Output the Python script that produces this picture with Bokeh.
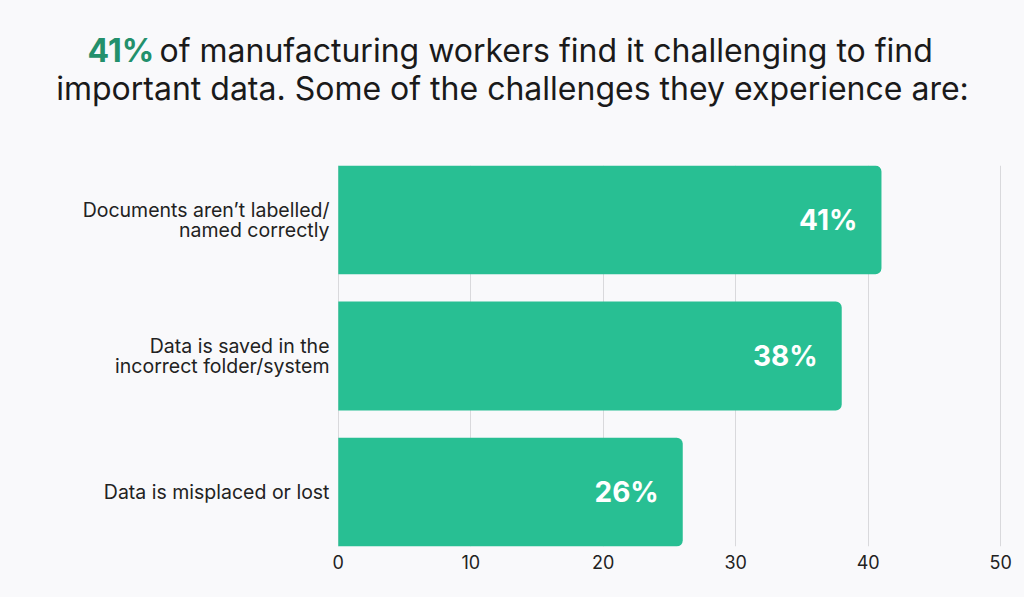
from bokeh.plotting import figure
from bokeh.layouts import column
from bokeh.models import Range1d, FactorRange, Label, ColumnDataSource, FixedTicker
from bokeh.core.properties import value
from bokeh.embed import file_html
from bokeh.resources import INLINE

categories = ["Documents aren\u2019t labelled/\nnamed correctly",
              "Data is saved in the\nincorrect folder/system",
              "Data is misplaced or lost"]
values = [41, 38, 26]
value_labels = ["41%", "38%", "26%"]
x_ticks = [0, 10, 20, 30, 40, 50]
title_highlight = "41%"
title_line1 = "of manufacturing workers find it challenging to find"
title_line2 = "important data. Some of the challenges they experience are:"

BG = "#f9f9fb"
BAR = "#28bf93"
FONT = "Inter"
W = 1024
TH = 120           # title strip height
MH = 597 - TH      # main figure height

# ---- title strip ----
t = figure(width=W, height=TH, output_backend="svg", toolbar_location=None,
           x_range=Range1d(0, W), y_range=Range1d(0, TH),
           x_axis_location=None, y_axis_location=None)
t.min_border = 0
t.frame_align = False
t.background_fill_color = BG
t.border_fill_color = BG
t.outline_line_color = None
t.grid.visible = False
t.add_layout(Label(x=87, y=TH - 50, x_units="screen", y_units="screen", text=title_highlight,
                   text_align="left", text_baseline="middle", text_font=FONT,
                   text_font_size="32px", text_font_style="bold", text_color="#23906c"))
t.add_layout(Label(x=159, y=TH - 50, x_units="screen", y_units="screen", text=title_line1,
                   text_align="left", text_baseline="middle", text_font=FONT,
                   text_font_size="32px", text_color="#1a1a1a"))
t.add_layout(Label(x=W / 2, y=TH - 88, x_units="screen", y_units="screen", text=title_line2,
                   text_align="center", text_baseline="middle", text_font=FONT,
                   text_font_size="32px", text_color="#1a1a1a"))

# ---- main chart ----
p = figure(width=W, height=MH, output_backend="svg", toolbar_location=None,
           y_range=FactorRange(factors=categories[::-1], range_padding=0, factor_padding=0.25),
           x_range=Range1d(-0.06, 50.06))
p.frame_align = False
p.min_border_left = 337
p.min_border_right = 23
p.min_border_top = 165 - TH
p.min_border_bottom = 597 - 546
p.background_fill_color = BG
p.border_fill_color = BG
p.outline_line_color = None

src = ColumnDataSource(dict(cat=categories, val=values, lab=value_labels))
p.hbar(y="cat", right="val", left=0, height=1.0, source=src, fill_color=BAR,
       line_color=None, border_radius=(0, 6, 6, 0))
p.text(x="val", y="cat", text="lab", source=src, x_offset=-24, text_align="right",
       text_baseline="middle", text_color="white", text_font=value(FONT),
       text_font_style="bold", text_font_size="28px")

ya = p.yaxis[0]
ya.axis_line_color = None
ya.major_tick_line_color = None
ya.minor_tick_line_color = None
ya.major_tick_in = 0
ya.major_tick_out = 0
ya.major_label_standoff = 8
ya.major_label_text_font = FONT
ya.major_label_text_font_size = "19.5px"
ya.major_label_text_color = "#222222"
ya.major_label_text_line_height = 0.85

p.ygrid.grid_line_color = None
p.xgrid.grid_line_color = "#d9d9dc"
p.xgrid.ticker = FixedTicker(ticks=x_ticks)
xa = p.xaxis[0]
xa.ticker = FixedTicker(ticks=x_ticks)
xa.axis_line_color = None
xa.major_tick_line_color = None
xa.minor_tick_line_color = None
xa.major_tick_in = 0
xa.major_tick_out = 0
xa.major_label_standoff = 8
xa.major_label_text_font = FONT
xa.major_label_text_font_size = "18px"
xa.major_label_text_color = "#222222"

layout = column(t, p, spacing=0)
layout.styles = {"background-color": BG}
open("out.html", "w").write(file_html(layout, INLINE))
